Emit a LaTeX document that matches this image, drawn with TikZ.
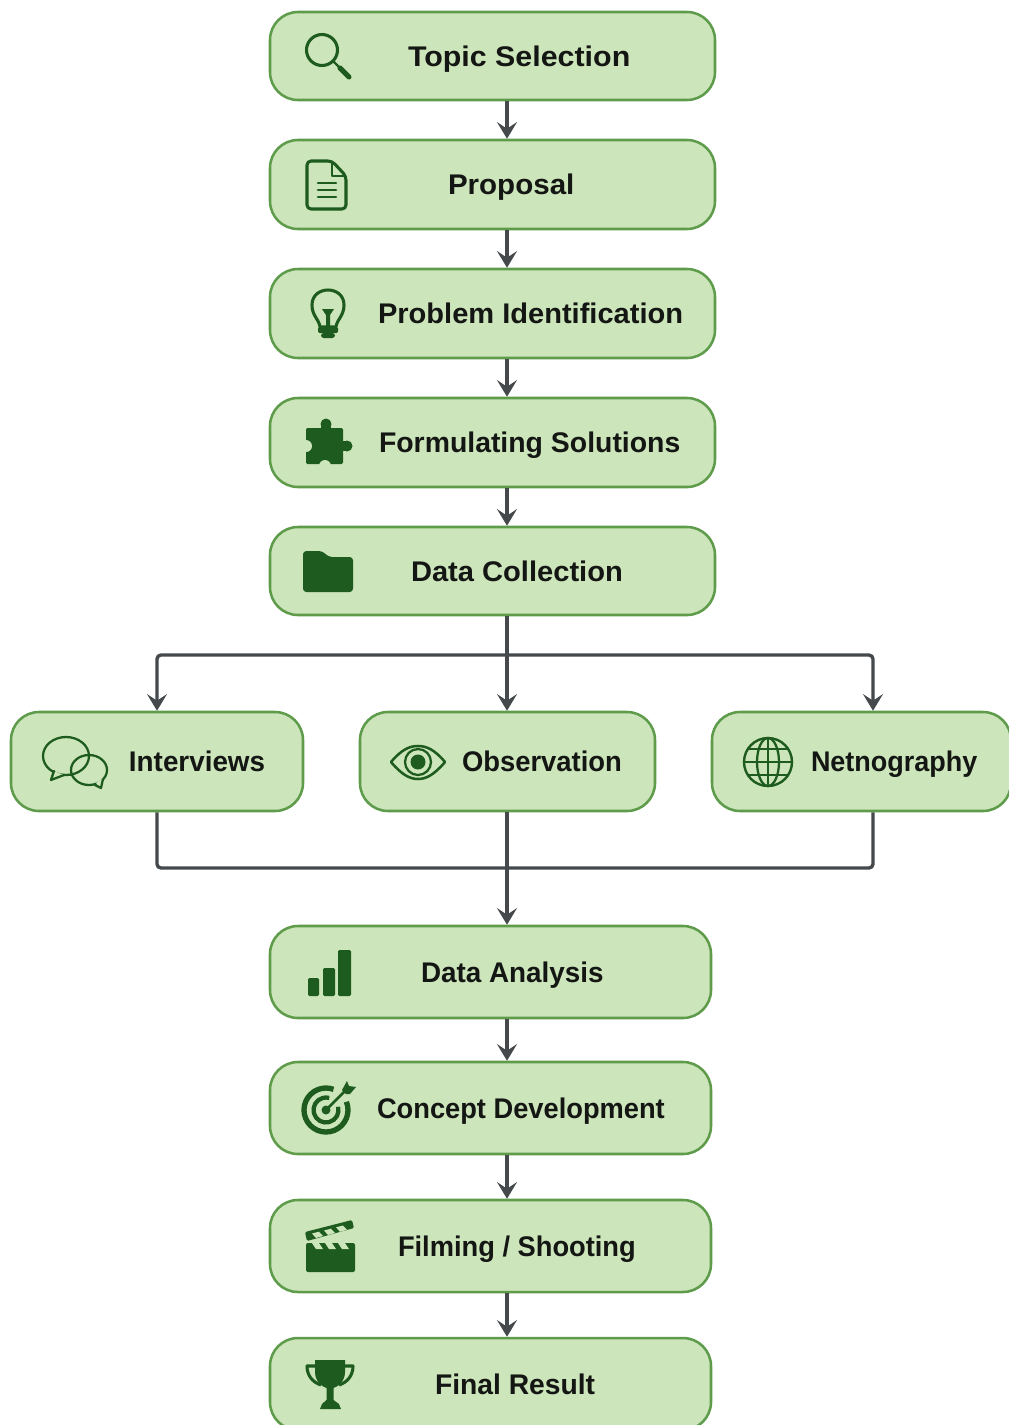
\documentclass[tikz,border=0pt]{standalone}
\usepackage{graphicx}
\usepackage{fontspec}
\setmainfont{Liberation Sans}
\usetikzlibrary{arrows.meta}
\definecolor{boxfill}{HTML}{CCE5BA}
\definecolor{boxline}{HTML}{5E9C4C}
\definecolor{icongreen}{HTML}{1E5B1E}
\definecolor{connline}{HTML}{45494C}
\definecolor{labelink}{HTML}{141614}
\newcommand{\flowbox}[8]{%
  \pgfmathsetmacro{\bw}{(#4-#2)*0.75}%
  \pgfmathsetmacro{\bh}{(#5-#3)*0.75}%
  \pgfmathsetmacro{\bp}{(#6-#2)*0.75}%
  \node[flowstep,minimum width=\bw pt,minimum height=\bh pt] (#1) at ({(#2+#4)/2},{(#3+#5)/2})
    {\makebox[\bw pt][l]{\hspace*{\bp pt}\scalebox{#8}[1]{#7}}};%
}
\tikzset{
  flowstep/.style={draw=boxline,fill=boxfill,line width=1.9pt,rounded corners=21pt,inner sep=0pt,
    text height=15.5pt,text depth=0pt,text=labelink,font=\fontsize{21.3}{24}\selectfont\bfseries},
  conn/.style={draw=connline,line width=2.5pt,rounded corners=3pt},
  arr/.style={conn,-{Stealth[length=12.5pt,width=15pt,inset=5pt]}},
  iconline/.style={draw=icongreen,line width=2.3pt,line join=round,line cap=round},
  thinicon/.style={draw=icongreen,line width=1.7pt,line join=round,line cap=round},
  iconfill/.style={fill=icongreen,draw=none},
}
\begin{document}
\begin{tikzpicture}[x=0.75pt,y=-0.75pt]
\clip (0,0) rectangle (1009,1425);
\fill[white] (0,0) rectangle (1009,1425);
\flowbox{ts}{270}{12}{715}{100}{408}{Topic Selection}{1.07}
\flowbox{pr}{270}{140}{715}{229}{448}{Proposal}{1.04}
\flowbox{pi}{270}{269}{715}{358}{378}{Problem Identification}{1.023}
\flowbox{fs}{270}{398}{715}{487}{379}{Formulating Solutions}{1}
\flowbox{dc}{270}{527}{715}{615}{411}{Data Collection}{1.025}
\flowbox{iv}{11}{712}{303}{811}{129}{Interviews}{0.98}
\flowbox{ob}{360}{712}{655}{811}{462}{Observation}{0.965}
\flowbox{ne}{712}{712}{1011}{811}{811}{Netnography}{0.95}
\flowbox{da}{270}{926}{711}{1018}{421}{Data Analysis}{0.98}
\flowbox{cd}{270}{1062}{711}{1154}{377}{Concept Development}{0.96}
\flowbox{fi}{270}{1200}{711}{1292}{398}{Filming / Shooting}{0.96}
\flowbox{fr}{270}{1338}{711}{1430}{435}{Final Result}{0.995}
% connectors
\coordinate (spine) at (507,655);
\coordinate (spineR) at (873,655);
\coordinate (merge) at (507,868);
\draw[arr] (ts.south -| spine) -- (pr.north -| spine);
\draw[arr] (pr.south -| spine) -- (pi.north -| spine);
\draw[arr] (pi.south -| spine) -- (fs.north -| spine);
\draw[arr] (fs.south -| spine) -- (dc.north -| spine);
\draw[arr] (dc.south -| spine) -- (ob.north -| spine);
\draw[arr] (spine) -| (iv.north);
\draw[arr] (spine) -| (ne.north -| spineR);
\draw[conn] (iv.south) |- (merge);
\draw[conn] (ne.south -| spineR) |- (merge);
\draw[arr] (ob.south -| spine) -- (da.north -| spine);
\draw[arr] (da.south -| spine) -- (cd.north -| spine);
\draw[arr] (cd.south -| spine) -- (fi.north -| spine);
\draw[arr] (fi.south -| spine) -- (fr.north -| spine);
% search
\draw[iconline] (322,50) circle[radius=15.5];
\draw[iconline,line width=1.8pt] (333,61) -- (340,68);
\draw[iconline,line width=3.8pt] (340,68) -- (349,77);
% document
\draw[iconline,rounded corners=3pt] (332,161) -- (307,161) -- (307,209) -- (346,209) -- (346,176) -- cycle;
\draw[iconline,line width=1.8pt] (332,162) -- (332,176) -- (345,176);
\draw[iconline,line width=1.9pt] (318,183) -- (336,183) (318,190) -- (336,190) (318,197) -- (336,197);
% bulb
\draw[iconline] (320,327) .. controls (319,319) and (312,316) .. (312,305) .. controls (312,285) and (344,285) .. (344,305) .. controls (344,316) and (337,319) .. (336,327) -- cycle;
\fill[icongreen] (322,309) -- (334,309) -- (330,315) -- (330,327) -- (326,327) -- (326,315) -- cycle;
\fill[icongreen,rounded corners=1pt] (318,327) rectangle (338,333);
\fill[icongreen,rounded corners=2pt] (321,333) rectangle (335,338);
% puzzle
\fill[icongreen,rounded corners=1pt] (306,428) rectangle (343,464);
\fill[icongreen] (326,424) circle[radius=5.5];
\fill[icongreen] (321,424) rectangle (331,430);
\fill[icongreen] (347,446) circle[radius=5.5];
\fill[icongreen] (341,441) rectangle (347,451);
\fill[boxfill] (306,446) circle[radius=6];
\fill[boxfill] (325,466) circle[radius=6];
% folder
\fill[icongreen,rounded corners=2.5pt] (303,551) -- (322,551) -- (329,557) -- (353,557) -- (353,592) -- (303,592) -- cycle;
% chat bubbles
\draw[thinicon] (66,756) ellipse[x radius=23,y radius=19];
\fill[boxfill] (54,771) -- (51,780) -- (64,775) -- cycle;
\draw[thinicon] (54,771) -- (51,780) -- (64,775);
\draw[thinicon] (89,770) ellipse[x radius=18,y radius=15];
\fill[boxfill] (96,783) -- (100,788) -- (103,778) -- cycle;
\draw[thinicon] (95,785) -- (101,788) -- (103,779);
% eye
\draw[iconline,line width=1.9pt] (391,762) .. controls (402,749) and (410,746) .. (418,746) .. controls (426,746) and (434,749) .. (445,762) .. controls (434,775) and (426,779) .. (418,779) .. controls (410,779) and (402,775) .. (391,762) -- cycle;
\draw[thinicon] (418,762) circle[radius=13];
\fill[icongreen] (418,762) circle[radius=7.5];
% globe
\draw[iconline,line width=1.8pt] (768,762) circle[radius=24];
\draw[thinicon] (768,762) ellipse[x radius=11,y radius=24];
\draw[thinicon] (768,738) -- (768,786) (744,762) -- (792,762);
\draw[thinicon] (749,749) -- (787,749) (749,775) -- (787,775);
% bars
\fill[icongreen,rounded corners=1pt] (308,978) rectangle (319,996);
\fill[icongreen,rounded corners=1pt] (323,968) rectangle (335,996);
\fill[icongreen,rounded corners=1pt] (338,950) rectangle (351,996);
% target
\draw[iconline,line width=4pt,line cap=butt] ([shift={(-22:22)}]326,1110) arc[start angle=-22,end angle=290,radius=22];
\draw[iconline,line width=3.2pt,line cap=butt] ([shift={(-15:12.5)}]326,1110) arc[start angle=-15,end angle=285,radius=12.5];
\fill[icongreen] (326,1110) circle[radius=4.5];
\draw[iconline,line width=2pt] (326,1110) -- (346,1090);
\fill[icongreen] (342,1090) -- (347,1081) -- (349,1086) -- (356,1087) -- (350,1094) -- (346,1094) -- cycle;
% clapperboard
\fill[icongreen,rounded corners=1pt] (305,1232) -- (352,1220) -- (354,1228) -- (307,1241) -- cycle;
\fill[boxfill] (312,1233.5) -- (319,1231.7) -- (323,1236) -- (316,1238) -- cycle;
\fill[boxfill] (324,1230.5) -- (331,1228.7) -- (335,1233) -- (328,1235) -- cycle;
\fill[boxfill] (336,1227.3) -- (343,1225.5) -- (347,1229.8) -- (340,1231.8) -- cycle;
\fill[icongreen,rounded corners=1.5pt] (306,1243) rectangle (355,1272);
\fill[boxfill] (312,1243) -- (319,1243) -- (323,1249) -- (316,1249) -- cycle;
\fill[boxfill] (325,1243) -- (332,1243) -- (336,1249) -- (329,1249) -- cycle;
\fill[boxfill] (338,1243) -- (345,1243) -- (349,1249) -- (342,1249) -- cycle;
% trophy
\fill[icongreen] (315,1360) -- (345,1360) -- (345,1372) .. controls (345,1382) and (337,1387) .. (333.5,1388) -- (333.5,1400) -- (339,1404) -- (341,1409) -- (320,1409) -- (322,1404) -- (326.5,1400) -- (326.5,1388) .. controls (323,1387) and (315,1382) .. (315,1372) -- cycle;
\draw[iconline,line cap=butt] (316,1366) -- (307,1366) .. controls (307,1375) and (312,1382) .. (321,1385);
\draw[iconline,line cap=butt] (344,1366) -- (353,1366) .. controls (353,1375) and (348,1382) .. (339,1385);
\end{tikzpicture}
\end{document}
